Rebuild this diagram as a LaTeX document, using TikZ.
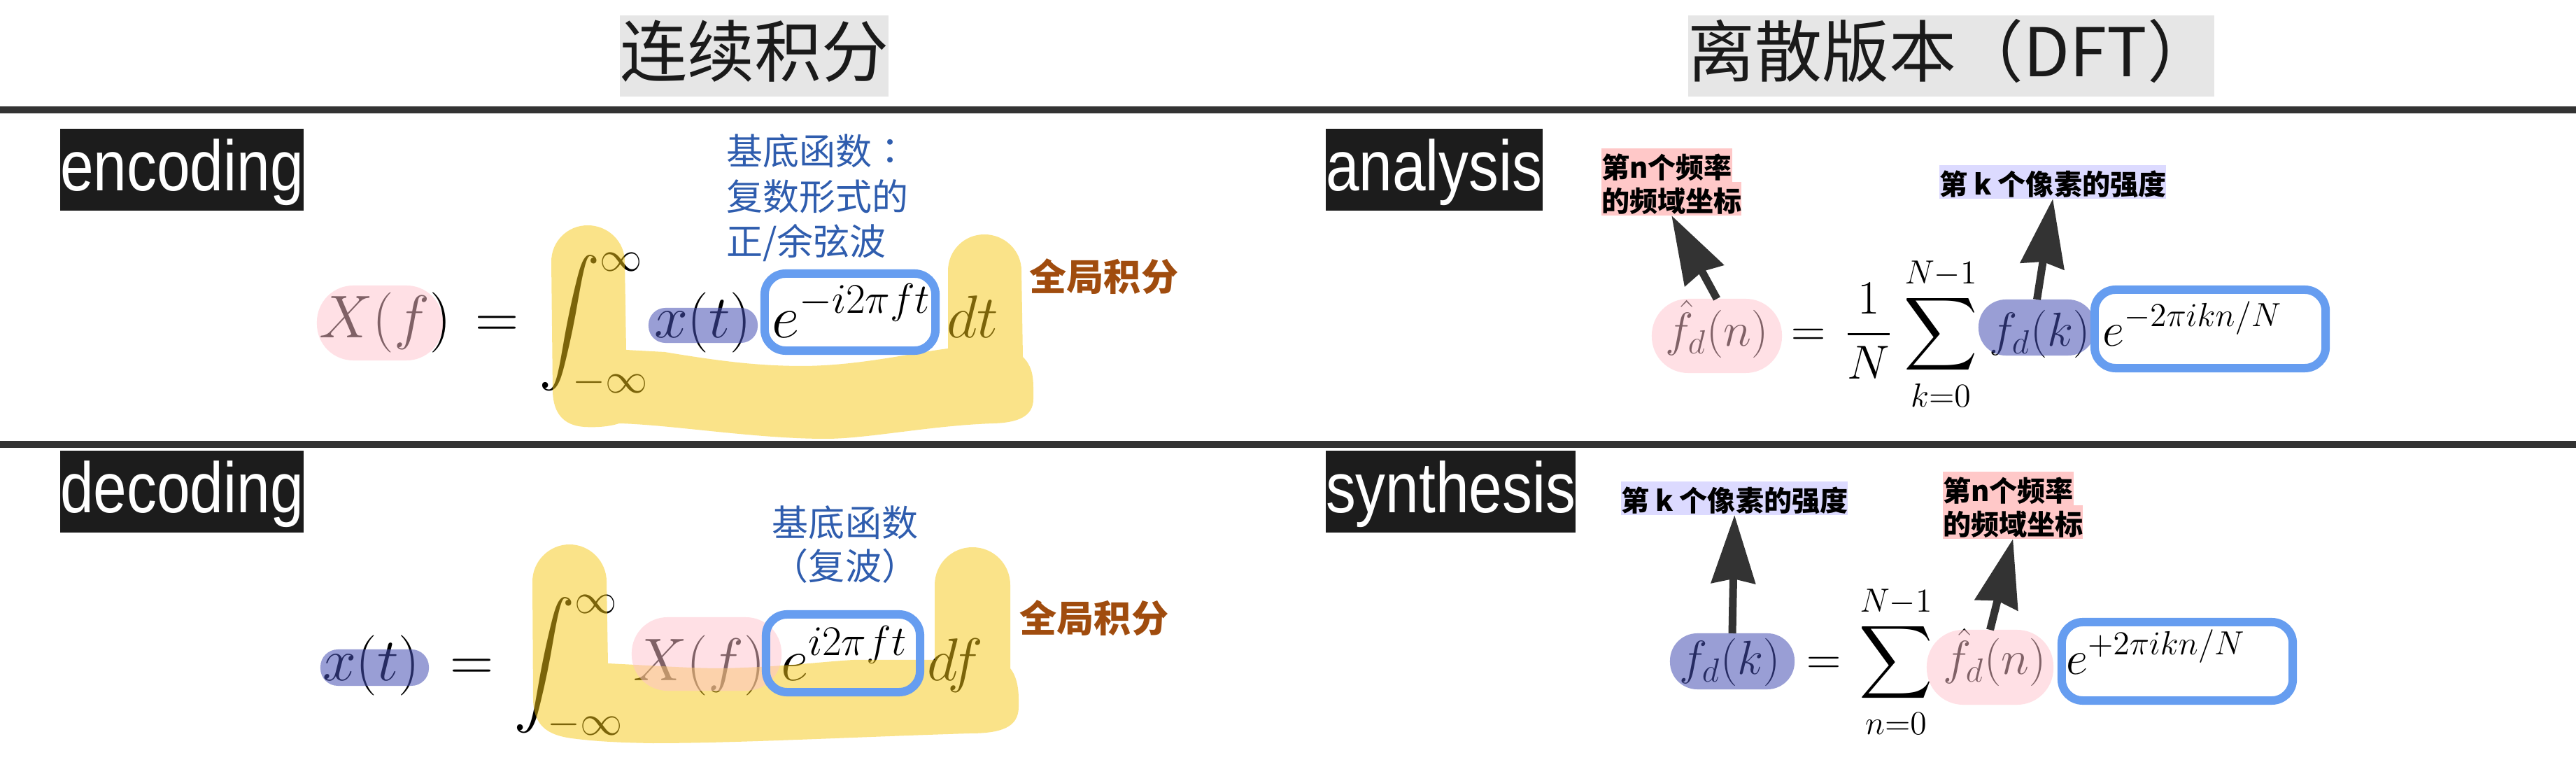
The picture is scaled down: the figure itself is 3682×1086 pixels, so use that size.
\RequirePackage{fix-cm}
\documentclass[tikz,border=0pt]{standalone}
\usepackage{exscale}
\usepackage{fontspec}
\usetikzlibrary{arrows.meta}
\newfontfamily\cjk{Noto Sans CJK SC}
\newfontfamily\cjktc{Noto Sans CJK TC}
\newfontfamily\condsans[FakeStretch=0.84]{Liberation Sans}
\definecolor{titlebg}{HTML}{E6E6E6}
\definecolor{inkc}{HTML}{1A1A1A}
\definecolor{rulec}{HTML}{333333}
\definecolor{tagbg}{HTML}{1C1C1C}
\definecolor{basisblue}{HTML}{2F5DAE}
\definecolor{brownc}{HTML}{A04C0E}
\definecolor{notepink}{HTML}{FFC8C8}
\definecolor{notelav}{HTML}{DCDAFF}
\definecolor{boxblue}{HTML}{669DF0}
\definecolor{hlyellow}{RGB}{247,200,20}
\definecolor{hlpink}{RGB}{255,195,205}
\definecolor{hlpurple}{RGB}{70,80,180}
\begin{document}
\begin{tikzpicture}[x=0.01cm,y=-0.01cm,
  titlebox/.style={fill=titlebg, text=inkc, inner xsep=0pt, inner ysep=0pt, outer sep=0pt,
    font=\cjk\fontsize{27.3}{30}\selectfont, anchor=base, text height=0.88cm, text depth=0.28cm},
  tagbox/.style={fill=tagbg, text=white, inner xsep=0pt, inner ysep=0pt, outer sep=0pt,
    font=\condsans\fontsize{29}{32}\selectfont, anchor=base west, text height=0.89cm, text depth=0.28cm},
  rulel/.style={draw=rulec, line width=0.1cm},
  bigmath/.style={inner sep=0pt, outer sep=0pt, font=\fontsize{24.5}{29}\selectfont},
  smallmath/.style={inner sep=0pt, outer sep=0pt, font=\fontsize{19.4}{23}\selectfont},
  yellowhl/.style={fill=hlyellow, fill opacity=0.5},
  pinkhl/.style={fill=hlpink, fill opacity=0.5, rectangle, inner sep=0pt, outer sep=0pt, rounded corners=#1},
  purplehl/.style={fill=hlpurple, fill opacity=0.55, rectangle, inner sep=0pt, outer sep=0pt, rounded corners=#1},
  bluebox/.style={draw=boxblue, line width=0.12cm, rectangle, rounded corners=0.3cm, inner sep=0pt, outer sep=0pt},
  basis/.style={font=\cjk\fontsize{14.8}{18.35}\selectfont, text=basisblue, inner sep=0pt, outer sep=0pt},
  globaltxt/.style={font=\cjk\bfseries\fontsize{15.1}{18}\selectfont, text=brownc, inner sep=0pt, anchor=base west},
  note/.style={font=\cjk\bfseries\fontsize{11.4}{13}\selectfont, text=black, inner xsep=0pt, inner ysep=0pt,
    text height=0.43cm, text depth=0.05cm, outer sep=0pt, anchor=base west},
  pinknote/.style={note, fill=notepink},
  lavnote/.style={note, fill=notelav},
  callout/.style={draw=rulec, line width=0.11cm, -{Stealth[length=0.97cm, width=0.62cm, inset=0.06cm]}}
]
\useasboundingbox (0,0) rectangle (3682,1086);
\fill[white] (0,0) rectangle (3682,1086);

% titles
\node[titlebox] (titleL) at (1078,110) {连续积分};
\node[titlebox] (titleR) at (2789,110) {离散版本（DFT）};

% rules
\draw[rulel] (0,157) -- (3682,157);
\draw[rulel] (0,635) -- (3682,635);

% tags
\node[tagbox] (tagEnc) at (86,273) {encoding};
\node[tagbox] (tagAna) at (1895,273) {analysis};
\node[tagbox] (tagDec) at (86,733) {decoding};
\node[tagbox] (tagSyn) at (1895,733) {synthesis};

% ---------- encoding formula ----------
\node[bigmath, anchor=base west] (encL) at (456,483) {$X(f)$};
\node[bigmath, anchor=base] (encEq) at (710,483) {$=$};
\node[bigmath, anchor=base west] (encInt) at (770,483) {$\displaystyle\int_{-\infty}^{\infty}$};
\node[bigmath, anchor=base west] (encx) at (935,483) {$x(t)$};
\node[bigmath, anchor=base west] (encExp) at (1103,483) {$\displaystyle e^{-i2\pi ft}$};
\node[bigmath, anchor=base west] (encd) at (1353,483) {$dt$};

% ---------- decoding formula ----------
\node[bigmath, anchor=base west] (decL) at (461,972) {$x(t)$};
\node[bigmath, anchor=base] (decEq) at (675,972) {$=$};
\node[bigmath, anchor=base west] (decInt) at (734,972) {$\displaystyle\int_{-\infty}^{\infty}$};
\node[bigmath, anchor=base west] (decX) at (905,972) {$X(f)$};
\node[bigmath, anchor=base west] (decExp) at (1116,972) {$\displaystyle e^{i2\pi ft}$};
\node[bigmath, anchor=base west] (decd) at (1325,972) {$df$};

% ---------- analysis formula ----------
\node[smallmath, anchor=base west] (anaL) at (2380,495) {$\hat{f}_d(n)$};
\node[smallmath, anchor=base] (anaEq) at (2585,495) {$=$};
\node[smallmath, anchor=base] (anaFrac) at (2671,495) {$\displaystyle\frac{1}{N}$};
\node[smallmath, anchor=base] (anaSum) at (2774,495) {$\displaystyle\sum_{k=0}^{N-1}$};
\node[smallmath, anchor=base west] (anaF) at (2843,495) {$f_d(k)$};
\node[smallmath, anchor=base west] (anaExp) at (3005,495) {$\displaystyle e^{-2\pi ikn/N}$};

% ---------- synthesis formula ----------
\node[smallmath, anchor=base west] (synL) at (2400,964) {$f_d(k)$};
\node[smallmath, anchor=base] (synEq) at (2607,964) {$=$};
\node[smallmath, anchor=base] (synSum) at (2710,964) {$\displaystyle\sum_{n=0}^{N-1}$};
\node[smallmath, anchor=base west] (synF) at (2777,964) {$\hat{f}_d(n)$};
\node[smallmath, anchor=base west] (synExp) at (2953,964) {$\displaystyle e^{+2\pi ikn/N}$};

% ---------- yellow integral highlights ----------
\fill[yellowhl] (788,374)
 .. controls (788,345) and (811,322) .. (840,322)
 .. controls (869,322) and (893,345) .. (893,374)
 -- (895,500) -- (950,503)
 .. controls (1040,518) and (1090,523) .. (1150,523)
 .. controls (1230,522) and (1300,505) .. (1355,498)
 -- (1355,387)
 .. controls (1355,358) and (1378,335) .. (1407,335)
 .. controls (1436,335) and (1460,358) .. (1460,387)
 -- (1462,510)
 .. controls (1474,522) and (1477,535) .. (1477,555)
 -- (1477,570)
 .. controls (1477,595) and (1455,604) .. (1420,605)
 .. controls (1330,608) and (1240,627) .. (1180,627)
 .. controls (1080,627) and (960,607) .. (885,605)
 .. controls (870,610) and (850,611) .. (835,610)
 .. controls (805,608) and (791,590) .. (790,560)
 -- cycle;

\fill[yellowhl] (761,831)
 .. controls (761,802) and (785,778) .. (814,778)
 .. controls (843,778) and (867,802) .. (867,831)
 -- (869,948)
 .. controls (950,952) and (990,955) .. (1033,955)
 .. controls (1120,953) and (1180,945) .. (1220,943)
 -- (1336,943) -- (1336,836)
 .. controls (1336,806) and (1360,782) .. (1390,782)
 .. controls (1420,782) and (1444,806) .. (1444,836)
 -- (1444,955)
 .. controls (1452,965) and (1456,980) .. (1456,1000)
 -- (1456,1010)
 .. controls (1456,1040) and (1430,1048) .. (1385,1048)
 .. controls (1200,1054) and (1050,1062) .. (933,1062)
 .. controls (870,1061) and (840,1058) .. (817,1055)
 .. controls (780,1050) and (763,1035) .. (762,1000)
 -- cycle;

% ---------- pink / purple highlights ----------
\node[pinkhl=0.52cm, minimum width=1.80cm, minimum height=1.07cm] (hlEncX) at (543,461.5) {};
\node[purplehl=0.24cm, minimum width=1.56cm, minimum height=0.50cm] (hlEncx) at (1005,465) {};
\node[purplehl=0.25cm, minimum width=1.55cm, minimum height=0.52cm] (hlDecx) at (535.5,954) {};
\node[pinkhl=0.51cm, minimum width=2.14cm, minimum height=1.05cm] (hlDecX) at (1010,934.5) {};
\node[pinkhl=0.52cm, minimum width=1.86cm, minimum height=1.06cm] (hlAn) at (2454,480) {};
\node[purplehl=0.39cm, minimum width=1.67cm, minimum height=0.80cm] (hlAk) at (2911.5,468) {};
\node[purplehl=0.39cm, minimum width=1.78cm, minimum height=0.80cm] (hlSk) at (2476,945) {};
\node[pinkhl=0.52cm, minimum width=1.81cm, minimum height=1.07cm] (hlSn) at (2844.5,953.5) {};

% ---------- blue basis boxes ----------
\node[bluebox, minimum width=2.44cm, minimum height=1.10cm] (boxEnc) at (1215,446) {};
\node[bluebox, minimum width=2.20cm, minimum height=1.11cm] (boxDec) at (1205,933.5) {};
\node[bluebox, minimum width=3.30cm, minimum height=1.12cm] (boxAna) at (3159,470) {};
\node[bluebox, minimum width=3.30cm, minimum height=1.12cm] (boxSyn) at (3112,945) {};

% ---------- annotations ----------
\node[basis, anchor=north west, align=left] (basisEnc) at (1038,192) {基底函数{\cjktc ：}\\复数形式的\\正/余弦波};
\node[basis, anchor=north, align=center, font=\cjk\fontsize{14.8}{17.6}\selectfont] (basisDec) at (1208,723) {基底函数\\（复波）};
\node[globaltxt] (globalEnc) at (1471,416) {全局积分};
\node[globaltxt] (globalDec) at (1457,904) {全局积分};

\node[pinknote] (noteAn1) at (2289,255) {第n个频率};
\node[pinknote] (noteAn2) at (2289,303) {的频域坐标};
\node[lavnote] (noteAk) at (2772,279) {第 k 个像素的强度};
\node[lavnote] (noteSk) at (2317,731) {第 k 个像素的强度};
\node[pinknote] (noteSn1) at (2777,717) {第n个频率};
\node[pinknote] (noteSn2) at (2777,765) {的频域坐标};

\draw[callout] (hlAn.north) -- (noteAn2.south);
\draw[callout] (hlAk.north) -- (noteAk.south);
\draw[callout] (hlSk.north) -- (noteSk.south);
\draw[callout] (hlSn.north) -- (noteSn2.south);
\end{tikzpicture}
\end{document}
